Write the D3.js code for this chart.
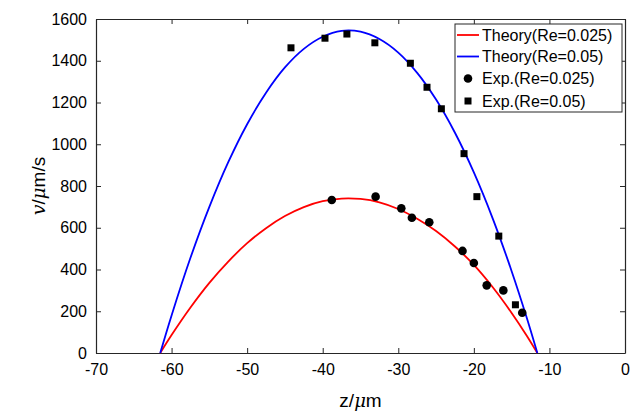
<!DOCTYPE html>
<html><head><meta charset="utf-8">
<script src="https://cdn.jsdelivr.net/npm/d3@7"></script>
<style>body{margin:0;background:#fff}svg{display:block}</style>
</head><body>
<script>
// Theory curves
const theoryZ = [-61.5, -60, -57.5, -55, -52.5, -50, -47.5, -45, -42.5, -40, -37.5, -35, -32.5, -30, -27.5, -25, -22.5, -20, -17.5, -15, -13, -11.6];
const theory025 = [0, 86, 218, 336, 438, 526, 598, 656, 699, 727, 740, 738, 722, 690, 643, 584, 510, 422, 315, 192, 83, 0];
const theory05 = [0, 180, 456, 700, 914, 1096, 1247, 1368, 1457, 1515, 1543, 1539, 1504, 1439, 1342, 1214, 1055, 865, 644, 392, 169, 0];
// Experimental points
const exp025Z = [-38.8, -33.0, -29.6, -28.2, -25.9, -21.5, -20.0, -18.3, -16.1, -13.6];
const exp025V = [733, 749, 693, 648, 626, 489, 431, 324, 300, 193];
const exp05Z = [-44.2, -39.7, -36.8, -33.1, -28.4, -26.2, -24.3, -21.3, -19.6, -16.7, -14.5];
const exp05V = [1462, 1508, 1528, 1486, 1388, 1273, 1170, 955, 749, 560, 231];
const xTicks = [-70, -60, -50, -40, -30, -20, -10, 0];
const yTicks = [0, 200, 400, 600, 800, 1000, 1200, 1400, 1600];
const legendLabels = ["Theory(Re=0.025)", "Theory(Re=0.05)", "Exp.(Re=0.025)", "Exp.(Re=0.05)"];

const W = 637, H = 413;
const m = {l: 96, r: 12, t: 19, b: 60};
const svg = d3.select("body").append("svg").attr("width", W).attr("height", H);
const x = d3.scaleLinear().domain([-70, 0]).range([m.l, W - m.r]);
const y = d3.scaleLinear().domain([0, 1600]).range([H - m.b, m.t]);
const font = "'Liberation Sans', Arial, Helvetica, sans-serif";
const axisCol = "#262626";
const fmt = d => String(d);

// axes
const gx = svg.append("g").attr("transform", `translate(0,${y(0)})`)
  .call(d3.axisBottom(x).tickValues(xTicks).tickSizeInner(-5).tickSizeOuter(0).tickPadding(10).tickFormat(fmt));
const gy = svg.append("g").attr("transform", `translate(${x(-70)},0)`)
  .call(d3.axisLeft(y).tickValues(yTicks).tickSizeInner(-5).tickSizeOuter(0).tickPadding(9).tickFormat(fmt));
const gxt = svg.append("g").attr("transform", `translate(0,${y(1600)})`)
  .call(d3.axisTop(x).tickValues(xTicks).tickSizeInner(-5).tickSizeOuter(0).tickFormat(""));
const gyr = svg.append("g").attr("transform", `translate(${x(0)},0)`)
  .call(d3.axisRight(y).tickValues(yTicks).tickSizeInner(-5).tickSizeOuter(0).tickFormat(""));
[gx, gy, gxt, gyr].forEach(g => {
  g.selectAll("path").attr("stroke", axisCol).attr("stroke-width", 1.2);
  g.selectAll("line").attr("stroke", axisCol).attr("stroke-width", 1);
  g.selectAll("text").attr("fill", "#000").style("font-family", font).style("font-size", "16px");
});
gx.selectAll("text").attr("dy", "0.72em");

// curves
const line = d3.line().x(d => x(d[0])).y(d => y(d[1])).curve(d3.curveCatmullRom.alpha(0.5));
svg.append("path").datum(theoryZ.map((z, i) => [z, theory025[i]]))
  .attr("d", line).attr("fill", "none").attr("stroke", "#ff0000").attr("stroke-width", 1.8);
svg.append("path").datum(theoryZ.map((z, i) => [z, theory05[i]]))
  .attr("d", line).attr("fill", "none").attr("stroke", "#0000ff").attr("stroke-width", 1.8);

// points
svg.append("g").selectAll("circle").data(exp025Z.map((z, i) => [z, exp025V[i]])).join("circle")
  .attr("cx", d => x(d[0])).attr("cy", d => y(d[1])).attr("r", 4.3).attr("fill", "#000");
const s = 7;
svg.append("g").selectAll("rect").data(exp05Z.map((z, i) => [z, exp05V[i]])).join("rect")
  .attr("x", d => x(d[0]) - s / 2).attr("y", d => y(d[1]) - s / 2).attr("width", s).attr("height", s).attr("fill", "#000");

// axis titles
const xt = svg.append("text").attr("x", (x(-70) + x(0)) / 2).attr("y", 407).attr("text-anchor", "middle")
  .style("font-family", font).style("font-size", "19px").attr("fill", "#000");
xt.append("tspan").text("z/");
xt.append("tspan").text("μ").style("font-family", "'DejaVu Serif', serif").style("font-style", "italic").style("font-size", "18px");
xt.append("tspan").text("m");
const yt = svg.append("text").attr("transform", `translate(45,${(y(0) + y(1600)) / 2}) rotate(-90)`).attr("text-anchor", "middle")
  .style("font-family", font).style("font-size", "19px").attr("fill", "#000");
yt.append("tspan").text("v").style("font-family", "'DejaVu Serif', serif").style("font-style", "italic").style("font-size", "19px");
yt.append("tspan").text("/");
yt.append("tspan").text("μ").style("font-family", "'DejaVu Serif', serif").style("font-style", "italic").style("font-size", "18px");
yt.append("tspan").text("m/s");

// legend
const lg = svg.append("g");
lg.append("rect").attr("x", 455).attr("y", 24).attr("width", 167).attr("height", 88)
  .attr("fill", "#fff").attr("stroke", axisCol).attr("stroke-width", 1);
const rowsY = [35, 56.5, 78.5, 101];
const colors = ["#ff0000", "#0000ff"];
legendLabels.forEach((lab, i) => {
  if (i < 2) {
    lg.append("line").attr("x1", 457).attr("x2", 479).attr("y1", rowsY[i]).attr("y2", rowsY[i])
      .attr("stroke", colors[i]).attr("stroke-width", 1.8);
  } else if (i === 2) {
    lg.append("circle").attr("cx", 468).attr("cy", rowsY[i]).attr("r", 4.3).attr("fill", "#000");
  } else {
    lg.append("rect").attr("x", 468 - s / 2).attr("y", rowsY[i] - s / 2).attr("width", s).attr("height", s).attr("fill", "#000");
  }
  lg.append("text").attr("x", 482).attr("y", rowsY[i]).attr("dy", "0.36em").text(lab)
    .style("font-family", font).style("font-size", "16px").attr("fill", "#000");
});
</script>
</body></html>
